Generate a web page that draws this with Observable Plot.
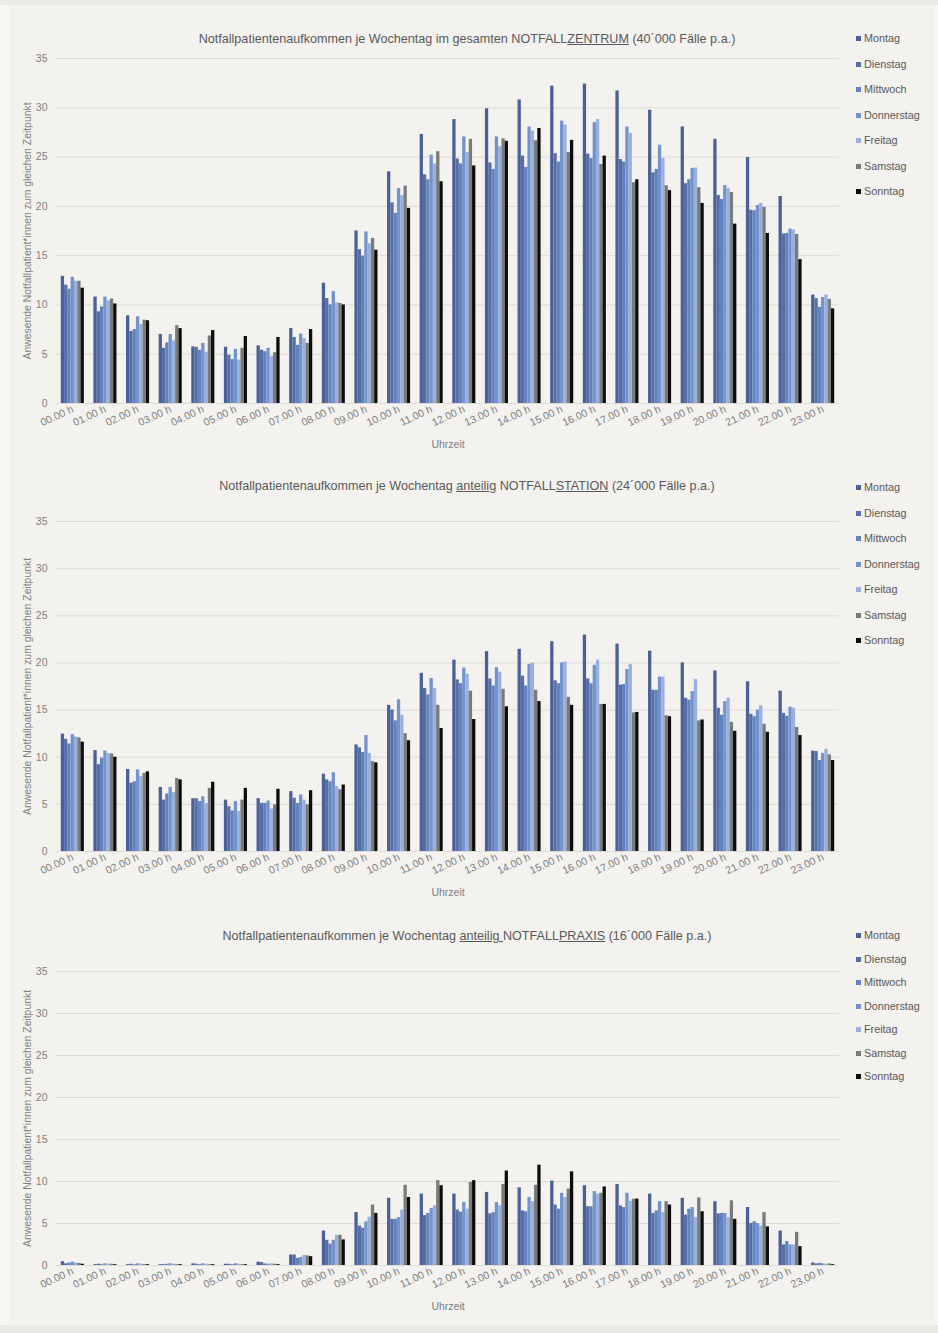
<!DOCTYPE html>
<html>
<head>
<meta charset="utf-8">
<script src="https://cdn.jsdelivr.net/npm/d3@7"></script>
<script src="https://cdn.jsdelivr.net/npm/@observablehq/plot@0.6"></script>
<style>
  html, body { margin: 0; padding: 0; }
  body { width: 938px; height: 1333px; background: #f8f7f4; font-family: "Liberation Sans", Arial, sans-serif; overflow: hidden; }
  #page { position: absolute; left: 9px; top: 5px; width: 926px; height: 1320px; background: #f3f2ee; }
  #topband { position: absolute; left: 0; top: 0; width: 938px; height: 5px; background: #ebe9e4; }
  #botband { position: absolute; left: 0; top: 1325px; width: 938px; height: 8px; background: #ebe9e4; }
  .chart { position: absolute; left: 0; }
  .title { position: absolute; left: 0; width: 934px; text-align: center; font-size: 12.6px; color: #595959; white-space: nowrap; }
  .legend { position: absolute; left: 856px; font-size: 10.8px; color: #595959; }
  .legend div { position: absolute; left: 0; white-space: nowrap; height: 14px; line-height: 14px; }
  .legend span.sw { display: inline-block; width: 5px; height: 5px; margin-right: 3px; vertical-align: 1px; }
</style>
</head>
<body>
<div id="topband"></div>
<div id="page"></div>
<div id="botband"></div>
<div id="root"></div>
<script>
const hours = ["00.00 h","01.00 h","02.00 h","03.00 h","04.00 h","05.00 h","06.00 h","07.00 h","08.00 h","09.00 h","10.00 h","11.00 h","12.00 h","13.00 h","14.00 h","15.00 h","16.00 h","17.00 h","18.00 h","19.00 h","20.00 h","21.00 h","22.00 h","23.00 h"];
const days = ["Montag","Dienstag","Mittwoch","Donnerstag","Freitag","Samstag","Sonntag"];
const dayColors = ["#4a6096","#566fa8","#6283be","#7393cc","#98b0de","#7a7a7a","#0d0d0d"];
const yTicks = [0,5,10,15,20,25,30,35];
const yLabel = "Anwesende Notfallpatient*innen zum gleichen Zeitpunkt";

// NOTFALLZENTRUM (gesamt)
const zentrumMontag     = [12.9,10.8,8.9,7.0,5.75,5.7,5.85,7.6,12.2,17.5,23.5,27.3,28.8,29.9,30.8,32.2,32.4,31.7,29.75,28.05,26.8,24.95,21.0,11.0];
const zentrumDienstag   = [12.0,9.3,7.3,5.6,5.7,4.9,5.4,6.7,10.65,15.6,20.35,23.2,24.8,24.4,25.1,25.35,25.3,24.75,23.4,22.3,21.1,19.6,17.2,10.65];
const zentrumMittwoch   = [11.6,9.8,7.5,6.15,5.4,4.45,5.25,5.9,10.0,14.95,19.3,22.7,24.3,23.75,23.95,24.5,24.85,24.5,23.75,22.7,20.7,19.55,17.25,9.75];
const zentrumDonnerstag = [12.8,10.8,8.8,7.0,6.1,5.5,5.6,7.05,11.35,17.4,21.8,25.2,27.05,27.05,28.05,28.65,28.5,28.05,26.2,23.85,22.1,20.1,17.7,10.75];
const zentrumFreitag    = [12.4,10.4,8.0,6.35,5.2,4.4,4.75,6.6,10.2,16.2,21.1,24.3,25.45,26.05,27.65,28.25,28.8,27.4,24.85,23.9,21.8,20.3,17.6,11.0];
const zentrumSamstag    = [12.4,10.6,8.45,7.9,6.85,5.6,5.15,6.1,10.15,16.75,22.05,25.55,26.8,26.85,26.65,25.45,24.25,22.4,22.1,21.9,21.4,19.9,17.15,10.55];
const zentrumSonntag    = [11.7,10.1,8.4,7.6,7.4,6.8,6.7,7.5,10.0,15.55,19.8,22.5,24.1,26.6,27.9,26.7,25.1,22.7,21.6,20.3,18.2,17.25,14.6,9.6];

// NOTFALLSTATION (anteilig)
const stationMontag     = [12.45,10.7,8.7,6.8,5.6,5.45,5.6,6.35,8.2,11.3,15.5,18.9,20.3,21.2,21.45,22.25,22.95,22.0,21.25,20.0,19.15,18.0,17.0,10.65];
const stationDienstag   = [11.9,9.2,7.25,5.45,5.6,4.75,5.1,5.65,7.6,11.0,15.0,17.3,18.2,18.3,18.6,18.1,18.3,17.65,17.1,16.25,15.2,14.55,14.65,10.6];
const stationMittwoch   = [11.4,9.9,7.4,6.1,5.3,4.3,5.1,5.1,7.4,10.5,13.85,16.6,17.8,17.55,17.55,17.8,17.8,17.7,17.1,16.05,14.45,14.3,14.35,9.65];
const stationDonnerstag = [12.4,10.65,8.65,6.8,5.8,5.3,5.35,6.0,8.35,12.3,16.1,18.35,19.45,19.5,19.85,20.0,19.75,19.3,18.5,16.95,15.9,15.0,15.3,10.4];
const stationFreitag    = [12.15,10.4,7.95,6.25,5.1,4.25,4.5,5.45,6.9,10.4,14.45,17.3,18.8,19.0,19.95,20.1,20.3,19.85,18.5,18.25,16.25,15.45,15.2,10.85];
const stationSamstag    = [12.05,10.35,8.3,7.75,6.7,5.45,4.95,4.95,6.55,9.55,12.5,15.5,17.0,17.2,17.1,16.35,15.6,14.7,14.4,13.85,13.7,13.5,13.15,10.25];
const stationSonntag    = [11.6,10.0,8.45,7.6,7.35,6.7,6.6,6.45,7.05,9.4,11.75,13.05,14.0,15.35,15.9,15.5,15.6,14.75,14.3,13.95,12.75,12.65,12.3,9.65];

// NOTFALLPRAXIS (anteilig)
const praxisMontag     = [0.45,0.1,0.1,0.1,0.2,0.15,0.4,1.25,4.1,6.3,8.0,8.5,8.5,8.7,9.25,10.05,9.5,9.65,8.5,8.0,7.6,6.9,4.1,0.3];
const praxisDienstag   = [0.2,0.15,0.15,0.1,0.15,0.15,0.35,1.25,3.0,4.7,5.5,5.95,6.6,6.15,6.5,7.2,7.0,7.1,6.2,6.0,6.15,5.0,2.45,0.2];
const praxisMittwoch   = [0.3,0.1,0.1,0.15,0.1,0.1,0.2,0.85,2.55,4.45,5.5,6.2,6.35,6.3,6.4,6.7,7.0,6.9,6.5,6.7,6.2,5.2,2.85,0.25];
const praxisDonnerstag = [0.4,0.2,0.2,0.2,0.2,0.2,0.15,0.95,3.0,5.2,5.7,6.8,7.5,7.5,8.1,8.6,8.8,8.6,7.6,6.9,6.2,5.0,2.45,0.2];
const praxisFreitag    = [0.3,0.15,0.15,0.15,0.15,0.15,0.2,1.2,3.6,5.75,6.6,7.1,6.7,7.1,7.6,8.1,8.5,7.65,6.3,5.7,5.7,4.7,2.45,0.15];
const praxisSamstag    = [0.25,0.15,0.1,0.1,0.1,0.1,0.15,1.15,3.6,7.2,9.55,10.1,9.9,9.65,9.55,9.1,8.6,7.9,7.6,8.05,7.7,6.3,3.95,0.2];
const praxisSonntag    = [0.15,0.1,0.1,0.1,0.1,0.1,0.1,1.05,3.05,6.2,8.1,9.5,10.1,11.25,11.95,11.15,9.35,7.9,7.2,6.4,5.5,4.6,2.25,0.1];

function rowsOf(series) {
  const rows = [];
  hours.forEach((h, i) => days.forEach((d, j) => rows.push({hour: h, day: d, value: series[j][i]})));
  return rows;
}

const charts = [
  {
    titleHTML: 'Notfallpatientenaufkommen je Wochentag im gesamten NOTFALL<u>ZENTRUM</u> (40´000 Fälle p.a.)',
    titleTop: 32, svgTop: 50, plotH: 345, legendTop: 31, legendStep: 25.5,
    series: [zentrumMontag, zentrumDienstag, zentrumMittwoch, zentrumDonnerstag, zentrumFreitag, zentrumSamstag, zentrumSonntag]
  },
  {
    titleHTML: 'Notfallpatientenaufkommen je Wochentag <u>anteilig</u> NOTFALL<u>STATION</u> (24´000 Fälle p.a.)',
    titleTop: 479, svgTop: 513, plotH: 330, legendTop: 480, legendStep: 25.5,
    series: [stationMontag, stationDienstag, stationMittwoch, stationDonnerstag, stationFreitag, stationSamstag, stationSonntag]
  },
  {
    titleHTML: 'Notfallpatientenaufkommen je Wochentag <u>anteilig </u>NOTFALL<u>PRAXIS</u> (16´000 Fälle p.a.)',
    titleTop: 929, svgTop: 963, plotH: 294, legendTop: 928, legendStep: 23.5,
    series: [praxisMontag, praxisDienstag, praxisMittwoch, praxisDonnerstag, praxisFreitag, praxisSamstag, praxisSonntag]
  }
];

const root = document.getElementById("root");
for (const c of charts) {
  const rows = rowsOf(c.series);
  const marginTop = 8, marginBottom = 58;
  const svg = Plot.plot({
    width: 850,
    height: marginTop + c.plotH + marginBottom,
    marginTop, marginBottom, marginLeft: 56, marginRight: 11,
    style: {background: "transparent", fontFamily: "'Liberation Sans', Arial, sans-serif", fontSize: "10.5px", color: "#7f7f7f", overflow: "visible"},
    facet: {data: rows, x: "hour"},
    fx: {domain: hours, padding: 0, round: false, label: "Uhrzeit", labelAnchor: "center", labelOffset: 44, tickRotate: -25, tickSize: 0, tickPadding: 5},
    x: {domain: days, axis: null, round: false, paddingInner: 0, paddingOuter: 1.45},
    y: {domain: [0, 35], ticks: yTicks, tickSize: 0, tickPadding: 9, label: yLabel, labelArrow: false, labelAnchor: "center", labelOffset: 33},
    color: {domain: days, range: dayColors},
    marks: [
      Plot.ruleY(yTicks, {stroke: "#dddbd6", strokeWidth: 1}),
      Plot.barY(rows, {x: "day", y: "value", fill: "day"})
    ]
  });
  // strip any arrow glyph Plot may append to the axis label
  svg.querySelectorAll("text").forEach(t => {
    if (t.textContent.includes(yLabel)) {
      t.textContent = yLabel;
      t.style.fontSize = "10.4px";
    }
  });
  const wrap = document.createElement("div");
  wrap.className = "chart";
  wrap.style.top = c.svgTop + "px";
  wrap.appendChild(svg);
  root.appendChild(wrap);

  const t = document.createElement("div");
  t.className = "title";
  t.style.top = c.titleTop + "px";
  t.innerHTML = c.titleHTML;
  root.appendChild(t);

  const lg = document.createElement("div");
  lg.className = "legend";
  lg.style.top = c.legendTop + "px";
  days.forEach((d, i) => {
    const item = document.createElement("div");
    item.style.top = (i * c.legendStep) + "px";
    const sw = document.createElement("span");
    sw.className = "sw";
    sw.style.background = dayColors[i];
    item.appendChild(sw);
    item.appendChild(document.createTextNode(d));
    lg.appendChild(item);
  });
  root.appendChild(lg);
}
</script>
</body>
</html>
